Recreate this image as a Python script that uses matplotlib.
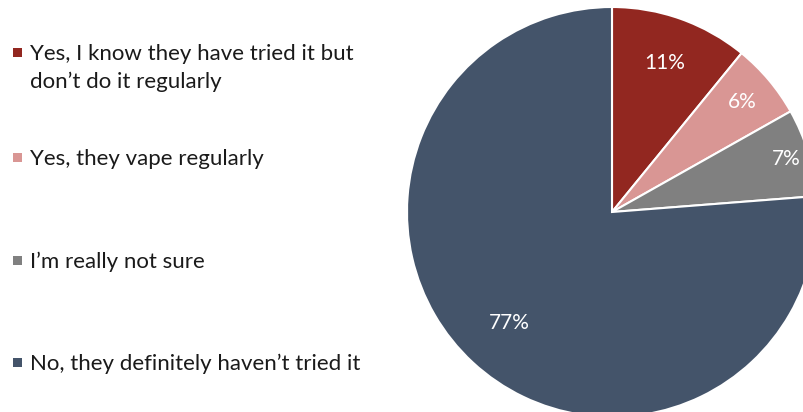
import matplotlib.pyplot as plt
import numpy as np

# survey answers, in the order they sit around the pie (clockwise from 12 o'clock)
labels = [
    "Yes, I know they have tried it but\ndon\u2019t do it regularly",
    "Yes, they vape regularly",
    "I\u2019m really not sure",
    "No, they definitely haven\u2019t tried it",
]
shares = [11, 6, 7, 77]
colors = ["#922720", "#D99694", "#808080", "#44546A"]

# how far out along the radius each percentage sits
label_r = [0.77, 0.83, 0.89, 0.74]

plt.rcParams["font.family"] = ["Lato", "DejaVu Sans"]

fig = plt.figure(figsize=(8.04, 4.12), dpi=100)

# the pie is bigger than the canvas, so the axes spills past the right and bottom edges
ax = fig.add_axes([407 / 804, (200 - 205) / 412, 410 / 804, 410 / 412])
wedges, _ = ax.pie(
    shares,
    colors=colors,
    startangle=90,
    counterclock=False,
    radius=1.0,
    wedgeprops=dict(edgecolor="white", linewidth=1.5),
)
ax.set_xlim(-1, 1)
ax.set_ylim(-1, 1)
ax.set_aspect("equal")
ax.axis("off")

for w, v, r in zip(wedges, shares, label_r):
    mid = np.deg2rad((w.theta1 + w.theta2) / 2)
    ax.text(r * np.cos(mid), r * np.sin(mid), f"{v}%", color="white",
            fontsize=15, ha="center", va="center")

# legend on the left, drawn by hand so the markers line up with the first text line
legend_y = [52, 157, 260, 362]
line_gap = 28
for lab, col, y in zip(labels, colors, legend_y):
    fig.patches.append(plt.Rectangle((13 / 804, 1 - (y + 4.5) / 412), 9 / 804, 9 / 412,
                                     transform=fig.transFigure, facecolor=col,
                                     edgecolor="none"))
    for i, line in enumerate(lab.split("\n")):
        fig.text(30 / 804, 1 - (y + i * line_gap) / 412, line, fontsize=16,
                 color="#1a1a1a", va="center_baseline", ha="left")

fig.savefig("out.png", dpi=100)
